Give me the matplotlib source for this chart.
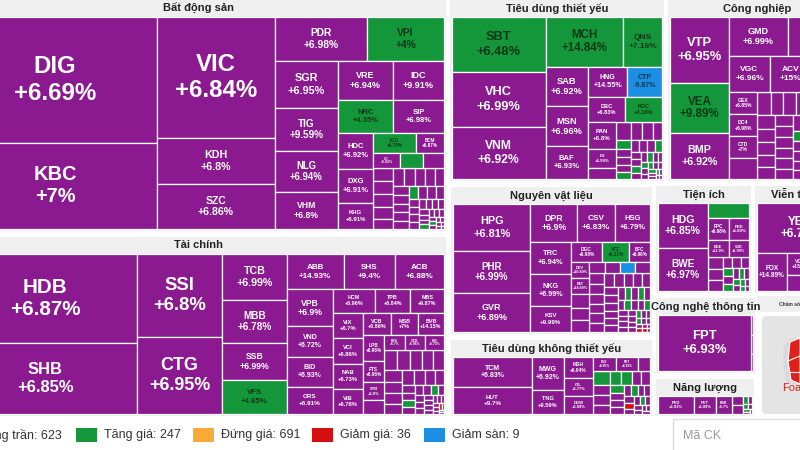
import matplotlib.pyplot as plt
from matplotlib.patches import Rectangle, Polygon, FancyBboxPatch

plt.rcParams['font.family'] = ['Liberation Sans', 'DejaVu Sans']

# ---------------- du lieu ----------------
# T = tang tran, G = tang gia, V = dung gia, D = giam gia, S = giam san
bds_ma = ['DIG', 'KBC', 'VIC', 'KDH', 'SZC', 'PDR', 'VPI', 'SGR', 'TIG', 'NLG', 'VHM', 'VRE',
          'IDC', 'NRC', 'SIP', 'HDC', 'DXG', 'KHG', 'VCG', 'BCM', 'CII', '', '']
bds_pct = [6.69, 7, 6.84, 6.8, 6.86, 6.98, 4, 6.95, 9.59, 6.94, 6.8, 6.94,
           9.91, 4.35, 6.98, 6.92, 6.91, 6.91, 6.79, 6.87, 6.93, 0, 0]
bds_gt = [25704, 17544, 14278, 5428, 5310, 4048, 3388, 2961, 2709, 2583, 2331, 2145,
          1989, 1815, 1683, 1260, 1190, 910, 860, 560, 405, 345, 315]
bds_tt = 'TTTTTTGTTTTTTGTTTTGTTGT'
bds_nho = [260, 255, 250, 230, 205, 200, 195, 180, 170, 160, 150, 147, 145, 140, 135, 120,
           115, 110, 105, 80, 78, 75, 72, 70, 68, 65, 60, 55, 50, 48, 45, 40, 38, 35, 30,
           28, 25, 22, 20, 18, 15, 12, 10]
bds_nho_tt = 'TTTTTTTTTTTTTTTGTTTTTTTTTTTTTTGTTTTGTTTTTTT'

tc_ma = ['HDB', 'SHB', 'SSI', 'CTG', 'TCB', 'MBB', 'SSB', 'VFS', 'ABB', 'SHS', 'ACB', 'VPB',
         'VND', 'BID', 'ORS', 'HCM', 'TPB', 'MBS', 'VIX', 'VCI', 'NAB', 'VIB', 'VCB', 'MSB',
         'BVB', 'LPB', 'FTS', 'STB', '', 'BVS', 'OCB', 'EIB']
tc_pct = [6.87, 6.85, 6.8, 6.95, 6.99, 6.78, 6.99, 4.65, 14.93, 9.4, 6.88, 6.9,
          6.72, 6.93, 6.91, 6.96, 6.84, 9.87, 6.7, 6.86, 6.73, 6.78, 6.86, 7,
          14.15, 6.96, 6.96, 6.9, 0, 6.7, 6.96, 6.73]
tc_gt = [16376, 13064, 7055, 6545, 2990, 2795, 2405, 2210, 1995, 1820, 1720, 1700,
         1380, 1380, 1242, 984, 828, 782, 765, 765, 760, 755, 650, 610,
         600, 560, 460, 390, 300, 290, 285, 280]
tc_tt = 'TTTTTTTGTTTTTTTTTTTTTTTTTTTTTTTT'
tc_nho = [260, 250, 240, 228, 228, 210, 200, 195, 185, 168, 160, 150, 140, 100, 95, 90, 85,
          80, 75, 70, 65, 60, 55, 50, 45, 42, 40, 38, 35, 30, 28, 25, 22, 20, 18, 15, 12, 10]
tc_nho_tt = 'TTTTTTTTTTTTTTTGTTTGTTTTTTTTTTTTTTDTGT'

tdty_ma = ['SBT', 'VHC', 'VNM', 'MCH', 'QNS', 'SAB', 'MSN', 'BAF', 'HNG', 'CTP', 'DBC', 'KDC',
           'PAN', 'IDI', '']
tdty_pct = [6.48, 6.99, 6.92, 14.84, 7.16, 6.92, 6.96, 6.93, 14.55, -9.87, 6.83, 3.16,
            6.8, 6.99, 0]
tdty_gt = [5115, 5115, 4836, 3822, 1911, 1680, 1680, 1386, 1200, 1050, 912, 888, 754, 522, 319]
tdty_tt = 'GTTGGTTTTSTGTTT'
tdty_nho = [264, 204, 198, 168, 132, 120, 110, 110, 100, 95, 94, 90, 85, 80, 75, 70, 65, 60,
            55, 50, 45, 42, 40, 38, 35, 32, 30, 28, 25, 22, 20, 18, 15, 12]
tdty_nho_tt = 'TTTTGTTTGTTTGTTGTTGTTGTTGTTGTTGTTT'

cn_ma = ['VTP', 'VEA', 'BMP', 'GMD', '', 'VGC', 'ACV', '', 'GEX', 'DC4', 'CTD', '']
cn_pct = [6.95, 9.89, 6.92, 6.99, 0, 6.96, 15, 0, 6.85, 6.98, 7, 0]
cn_gt = [3894, 2950, 2714, 2301, 2184, 1476, 1476, 1188, 630, 620, 610, 600]
cn_tt = 'TGTTTTTTTTTT'
cn_nho = [300, 290, 285, 280, 275, 265, 260, 250, 240, 230, 220, 210, 200, 195, 190, 190,
          185, 180, 180, 175, 170, 165, 160, 155, 150, 145, 140, 135, 130, 125, 120, 115,
          110, 105, 100, 95, 90, 85, 80, 75, 70, 65, 60, 55, 50, 45, 40, 35, 30, 25, 20]
cn_nho_tt = 'TTTTTTTTTTTTTTTTTTTTTTTGTTTTGTTTTTTTGTTTTTGTTTTTTTT'

nvl_ma = ['HPG', 'PHR', 'GVR', 'DPR', 'CSV', 'HSG', 'TRC', 'NKG', 'KSV', 'DGC', 'VTZ', 'BFC',
          'DDV', 'PAT', '', '', '', '', '', '', '']
nvl_pct = [6.81, 6.99, 6.89, 6.9, 6.83, 6.79, 6.94, 6.99, 9.99, 6.98, 6.11, 6.96,
           10.89, 14.89, 0, 0, 0, 0, 0, 0, 0]
nvl_gt = [3666, 3276, 3042, 1786, 1444, 1330, 1320, 1271, 1066, 651, 546, 441,
          300, 300, 260, 230, 220, 170, 170, 170, 170]
nvl_tt = 'TTTTTTTTTTGTTTTTTTTST'
nvl_nho = [160, 150, 148, 145, 140, 140, 135, 130, 127, 120, 115, 110, 105, 100, 98, 95, 90,
           88, 85, 80, 78, 75, 72, 70, 68, 65, 62, 60, 58, 55, 52, 50, 48, 45, 42, 40, 38,
           35, 32, 30, 28, 25, 22, 20, 18, 15, 12]
nvl_nho_tt = 'TTTTTTTTTTTTTTTTTTGTGTTGTTGTTTTTTTTGTTGTTTDTDTT'

tdkty_ma = ['TCM', 'HUT', 'MWG', 'TNG', 'MSH', 'GIL', 'DGW', 'PNJ', 'FRT', '']
tdkty_pct = [6.83, 9.7, 6.92, 9.59, 6.94, 6.77, 6.99, 6.95, 6.93, 0]
tdkty_gt = [2370, 2133, 1056, 768, 609, 522, 522, 322, 308, 168]
tdkty_tt = 'TTTTTTTTTT'
tdkty_nho = [240, 182, 170, 160, 150, 140, 130, 120, 110, 100, 95, 90, 85, 80, 75, 70, 65,
             60, 55, 50, 45, 40, 38, 35, 30, 25, 22]
tdkty_nho_tt = 'GTTTGGTTGTTTTGTTTDTTGTTTTTT'

ti_ma = ['HDG', 'BWE', '', 'PPC', 'REE', 'BGE', 'SJD']
ti_pct = [6.85, 6.97, 0, 6.98, 6.89, 12.9, 6.99]
ti_gt = [2250, 2150, 615, 483, 460, 357, 340]
ti_tt = 'TTGTTTT'
ti_nho = [190, 180, 170, 100, 95, 90, 80, 75, 70, 60, 55, 50, 45, 40, 35, 30, 25, 20]
ti_nho_tt = 'TTTTTTGTGTGTGTGTGT'

vt_ma = ['YEG', 'FOX', 'VGI', '']
vt_pct = [6.75, 14.89, 15, 10]
vt_gt = [4300, 1140, 520, 380]
vt_tt = 'TTTT'
vt_nho = [300, 280, 250, 200, 186]
vt_nho_tt = 'TTTTT'

cntt_ma = ['FPT']
cntt_pct = [6.93]
cntt_gt = [5152]
cntt_tt = 'T'
cntt_nho = [40, 38, 34]
cntt_nho_tt = 'TTT'

nl_ma = ['PVD', 'PVT', 'BSR']
nl_pct = [6.91, 6.99, 6.7]
nl_gt = [612, 360, 270]
nl_tt = 'TTT'
nl_nho = [90, 90, 35, 30, 25, 20, 18, 15, 12]
nl_nho_tt = 'TTGTGTGTT'

leg_nhan = ['Tăng trần', 'Tăng giá', 'Đứng giá', 'Giảm giá', 'Giảm sàn']
leg_so = [623, 247, 691, 36, 9]
leg_tt = 'TGVDS'

MAU = {'T': '#8b1a90', 'G': '#14963a', 'V': '#f8a936', 'D': '#d50f10', 'S': '#1b8fe1'}
NEN = '#efefef'

# khung tung nganh (vung o, tinh theo pixel), cach chia dai
nganh = [
    ('Bất động sản', (-47, 17, 444, 229), 'c2 c3 r2 c4 r2 r2 c3 r2 r3',
     bds_ma, bds_pct, bds_gt, bds_tt, bds_nho, bds_nho_tt),
    ('Tài chính', (-47, 254, 444, 414), 'c2 c2 c4 r3 c4 r3 c4 r3 c4 r3',
     tc_ma, tc_pct, tc_gt, tc_tt, tc_nho, tc_nho_tt),
    ('Tiêu dùng thiết yếu', (452, 17, 662, 179), 'c3 r2 c3 r2 r2 c3',
     tdty_ma, tdty_pct, tdty_gt, tdty_tt, tdty_nho, tdty_nho_tt),
    ('Công nghiệp', (670, 17, 844, 179), 'c3 r2 r3 c4',
     cn_ma, cn_pct, cn_gt, cn_tt, cn_nho, cn_nho_tt),
    ('Nguyên vật liệu', (453, 204, 650, 332), 'c3 r3 c3 r3 c5 r4',
     nvl_ma, nvl_pct, nvl_gt, nvl_tt, nvl_nho, nvl_nho_tt),
    ('Tiêu dùng không thiết yếu', (453, 357, 650, 414), 'c2 c2 c3 r3',
     tdkty_ma, tdkty_pct, tdkty_gt, tdkty_tt, tdkty_nho, tdkty_nho_tt),
    ('Tiện ích', (658, 203, 749, 291), 'c2 r1 r2 r2',
     ti_ma, ti_pct, ti_gt, ti_tt, ti_nho, ti_nho_tt),
    ('Viễn thông', (757, 203, 843, 291), 'r1 c1 c2',
     vt_ma, vt_pct, vt_gt, vt_tt, vt_nho, vt_nho_tt),
    ('Công nghệ thông tin', (658, 315, 753, 371), 'c1',
     cntt_ma, cntt_pct, cntt_gt, cntt_tt, cntt_nho, cntt_nho_tt),
    ('Năng lượng', (658, 396, 752, 414), 'c1 c1 c1',
     nl_ma, nl_pct, nl_gt, nl_tt, nl_nho, nl_nho_tt),
]

PHI = (1 + 5 ** 0.5) / 2


def squarify(vals, x0, y0, x1, y1, ratio=PHI):
    # giong d3.treemapSquarify
    order = sorted(range(len(vals)), key=lambda i: -vals[i])
    nodes = [vals[i] for i in order]
    out = [None] * len(vals)
    value = float(sum(nodes))
    i0 = i1 = 0
    n = len(nodes)
    while i0 < n:
        dx, dy = x1 - x0, y1 - y0
        s = nodes[i1]
        i1 += 1
        mn = mx = s
        alpha = max(dy / dx, dx / dy) / (value * ratio)
        beta = s * s * alpha
        best = max(mx / beta, beta / mn)
        while i1 < n:
            v = nodes[i1]
            s2 = s + v
            mn2, mx2 = min(mn, v), max(mx, v)
            beta = s2 * s2 * alpha
            r = max(mx2 / beta, beta / mn2)
            if r > best:
                break
            s, mn, mx, best = s2, mn2, mx2, r
            i1 += 1
        if dx < dy:
            h = dy * s / value
            xx = x0
            for k in range(i0, i1):
                w = dx * nodes[k] / s
                out[order[k]] = (xx, y0, w, h)
                xx += w
            y0 += h
        else:
            w = dx * s / value
            yy = y0
            for k in range(i0, i1):
                h = dy * nodes[k] / s
                out[order[k]] = (x0, yy, w, h)
                yy += h
            x0 += w
        value -= s
        i0 = i1
    return out


def xep(vals, spec, tail, x0, y0, x1, y1):
    total = float(sum(vals) + sum(tail))
    rects = []
    i = 0
    for st in spec.split():
        c = int(st[1:])
        row = vals[i:i + c]
        s = sum(row)
        if st[0] == 'r':
            h = (y1 - y0) * s / total
            xx = x0
            for v in row:
                w = (x1 - x0) * v / s
                rects.append((xx, y0, w, h))
                xx += w
            y0 += h
        else:
            w = (x1 - x0) * s / total
            yy = y0
            for v in row:
                h = (y1 - y0) * v / s
                rects.append((x0, yy, w, h))
                yy += h
            x0 += w
        total -= s
        i += c
    return rects, squarify(tail, x0, y0, x1, y1)


fig = plt.figure(figsize=(8, 4.5), dpi=100)
ax = fig.add_axes([0, 0, 1, 1])
ax.set_xlim(0, 800)
ax.set_ylim(450, 0)
ax.axis('off')

for ten, (x0, y0, x1, y1), spec, ma, pct, gt, tt, nho, nho_tt in nganh:
    ax.add_patch(Rectangle((x0 - 2, y0 - 17), x1 - x0 + 4, y1 - y0 + 19,
                           facecolor=NEN, edgecolor='none'))
    ax.text((x0 + x1) / 2, y0 - 8.5, ten, ha='center', va='center',
            fontsize=8, fontweight='bold', color='#222222')
    rects, rects_nho = xep(gt, spec, nho, x0, y0, x1, y1)
    for (x, y, w, h), k in zip(rects_nho, nho_tt):
        ax.add_patch(Rectangle((x, y), w, h, facecolor=MAU[k],
                               edgecolor='white', linewidth=0.9))
    for (x, y, w, h), m, p, k in zip(rects, ma, pct, tt):
        ax.add_patch(Rectangle((x, y), w, h, facecolor=MAU[k],
                               edgecolor='white', linewidth=0.9))
        if not m:
            continue
        fpx = min(h / 4.3, w / 4.6, 24)
        if fpx < 2.5:
            continue
        col = 'white' if k == 'T' else (0, 0, 0, 0.62)
        cx, cy = x + w / 2, y + h / 2
        ax.text(cx, cy - 0.55 * fpx, m, ha='center', va='center',
                fontsize=fpx * 0.72, fontweight='bold', color=col)
        ax.text(cx, cy + 0.55 * fpx, f'{p:+g}%', ha='center', va='center',
                fontsize=fpx * 0.72, fontweight='bold', color=col)

# cham soc suc khoe + quang cao
ax.add_patch(Rectangle((758, 296), 90, 16, facecolor=NEN, edgecolor='none'))
ax.text(803, 304, 'Chăm sóc sức khỏe', ha='center', va='center',
        fontsize=3.6, fontweight='bold', color='#333333')
ax.add_patch(FancyBboxPatch((762, 316), 60, 98, boxstyle='round,pad=0,rounding_size=4',
                            facecolor='#e4e4e4', edgecolor='none'))
ax.add_patch(Polygon([(784, 345), (792, 338), (800, 338), (800, 386), (786, 382), (783, 362)],
                     closed=True, facecolor='#d9dadb', edgecolor='none'))
ax.add_patch(Polygon([(790, 342), (800, 338), (800, 384), (791, 380), (788, 361)],
                     closed=True, facecolor='#e0201b', edgecolor='white', linewidth=0.8))
ax.plot([788, 800], [361, 356], color='white', lw=0.8)
ax.plot([790, 800], [372, 372], color='white', lw=0.8)
ax.text(782, 388, 'Foam', ha='left', va='center', fontsize=8, color='#e0201b')

# chu thich
sq_x = [-40, 76, 193, 312, 424]
for i, (nh, so, k) in enumerate(zip(leg_nhan, leg_so, leg_tt)):
    ax.add_patch(Rectangle((sq_x[i], 428), 21, 14, facecolor=MAU[k], edgecolor='none'))
    if i == 0:
        ax.text(62, 435, f'{nh}: {so}', ha='right', va='center', fontsize=9, color='#333333')
    else:
        ax.text(sq_x[i] + 28, 435, f'{nh}: {so}', ha='left', va='center',
                fontsize=9, color='#333333')

ax.add_patch(Rectangle((673, 419), 140, 35, facecolor='white', edgecolor='#dddddd', lw=1))
ax.text(683, 436, 'Mã CK', ha='left', va='center', fontsize=9, color='#9a9a9a')

fig.savefig('out.png', dpi=100)
